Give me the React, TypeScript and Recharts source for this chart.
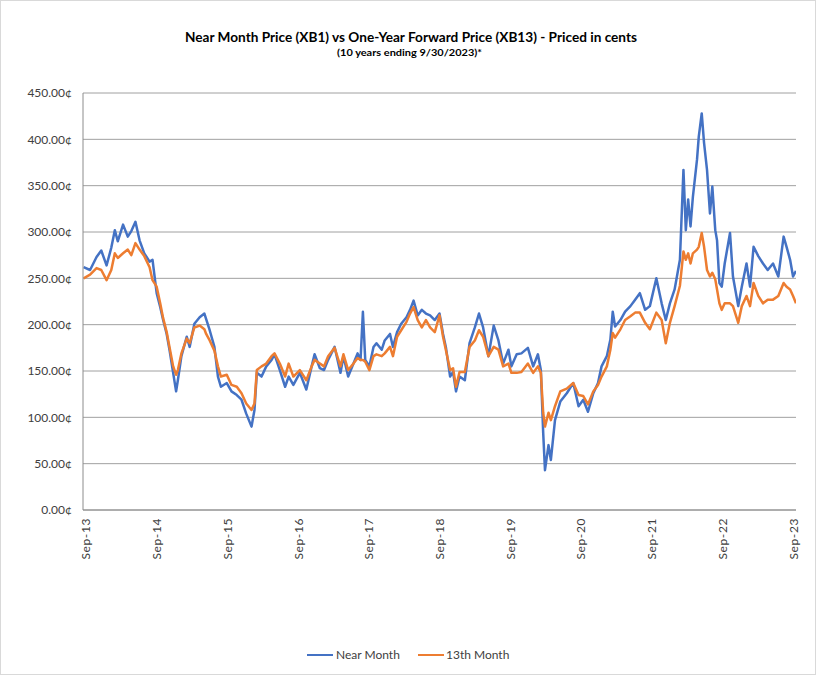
import React from "react";
import { LineChart, Line, XAxis, YAxis, CartesianGrid } from "recharts";

// months since Sep 2013 (fractional)
const monthIdx: number[] = [
  -0.4, 0.7, 1.8, 2.6, 3.5, 4.3, 4.9, 5.4, 6.3, 7.1, 7.7, 8.4, 9.1, 9.9, 10.8, 11.3,
  12.0, 12.6, 13.1, 13.7, 14.2, 14.8, 15.3, 15.6, 16.2, 17.1, 17.6, 18.4, 19.3, 20.1, 20.4, 21.0,
  21.8, 22.4, 22.9, 23.9, 24.7, 25.6, 26.4, 27.2, 28.1, 28.6, 29.0, 29.8, 30.6, 31.5, 32.0, 32.9,
  33.8, 34.4, 35.2, 36.3, 37.4, 38.3, 38.8, 39.7, 40.4, 41.1, 42.2, 43.2, 43.7, 44.5, 45.4, 46.1,
  46.6, 47.0, 47.4, 48.1, 48.8, 49.3, 50.2, 50.7, 51.6, 52.1, 52.8, 53.5, 54.4, 55.0, 55.6, 56.3,
  57.0, 57.7, 58.4, 59.2, 60.0, 60.6, 61.1, 61.8, 62.3, 62.8, 63.4, 64.3, 65.1, 66.0, 66.7, 67.4,
  68.3, 69.2, 70.0, 70.8, 71.7, 72.2, 73.1, 73.9, 75.0, 75.9, 76.7, 77.2, 77.6, 77.9, 78.5, 78.9,
  79.6, 80.5, 81.6, 82.7, 83.6, 84.4, 85.2, 86.1, 86.9, 87.5, 88.4, 89.0, 89.4, 89.8, 90.7, 91.5,
  92.4, 93.2, 94.0, 94.9, 95.7, 96.8, 97.7, 98.4, 99.1, 99.9, 100.8, 101.4, 101.8, 102.2, 102.6, 103.0,
  103.7, 104.0, 104.5, 104.9, 105.4, 105.9, 106.3, 106.8, 107.1, 107.5, 107.9, 108.4, 109.3, 109.8, 110.7, 111.3,
  112.1, 112.7, 113.3, 114.1, 114.9, 115.7, 116.6, 117.5, 118.4, 118.9, 119.5, 120.0, 120.5,
];

// Near Month (XB1), cents
const nearMonth: number[] = [
  262, 259, 273, 280, 264, 283, 302, 290, 308, 295, 301, 311, 291, 277, 268, 270,
  234, 219, 205, 190, 172, 148, 128, 140, 166, 187, 176, 201, 208, 212, 206, 194,
  176, 144, 133, 137, 128, 124, 119, 104, 90, 108, 148, 144, 155, 162, 168, 151,
  133, 144, 135, 148, 130, 155, 168, 153, 151, 162, 176, 148, 166, 144, 158, 169,
  162, 214, 162, 155, 176, 180, 173, 183, 190, 176, 192, 201, 208, 216, 226, 210,
  216, 212, 210, 205, 212, 190, 175, 144, 149, 128, 144, 140, 180, 197, 212, 197,
  166, 199, 183, 158, 173, 155, 168, 169, 175, 155, 168, 151, 83, 43, 70, 54,
  97, 117, 126, 137, 112, 119, 106, 126, 137, 155, 166, 184, 214, 198, 205, 214,
  220, 227, 234, 216, 220, 250, 223, 205, 223, 238, 270, 367, 302, 335, 306, 338,
  378, 403, 428, 396, 367, 320, 349, 302, 291, 245, 241, 266, 299, 252, 220, 241,
  266, 241, 284, 274, 266, 259, 266, 252, 295, 284, 270, 252, 258,
];

// 13th Month (XB13), cents
const thirteenthMonth: number[] = [
  250, 254, 261, 259, 248, 259, 277, 272, 277, 281, 275, 288, 281, 274, 262, 248,
  241, 223, 207, 192, 175, 155, 146, 151, 169, 185, 180, 197, 199, 195, 190, 183,
  172, 155, 144, 146, 135, 133, 126, 115, 108, 115, 151, 155, 158, 166, 169, 158,
  144, 158, 144, 151, 140, 155, 162, 158, 155, 166, 175, 155, 168, 151, 158, 164,
  162, 162, 160, 151, 166, 168, 166, 169, 176, 166, 187, 194, 203, 212, 219, 205,
  197, 205, 197, 192, 210, 187, 172, 151, 153, 133, 149, 149, 176, 183, 194, 187,
  166, 176, 173, 155, 158, 148, 148, 149, 158, 148, 155, 148, 105, 90, 105, 97,
  112, 128, 131, 137, 124, 123, 114, 128, 135, 144, 155, 173, 191, 186, 195, 205,
  209, 213, 213, 202, 195, 213, 205, 180, 202, 220, 242, 279, 270, 277, 266, 277,
  281, 284, 299, 284, 259, 252, 256, 249, 238, 223, 216, 223, 223, 220, 202, 220,
  231, 220, 245, 231, 223, 227, 227, 231, 245, 241, 238, 231, 223,
];

const yTicks: number[] = [0, 50, 100, 150, 200, 250, 300, 350, 400, 450];
const xTicks: number[] = [0, 12, 24, 36, 48, 60, 72, 84, 96, 108, 120];
const xTickLabels: string[] = [
  "Sep-13", "Sep-14", "Sep-15", "Sep-16", "Sep-17", "Sep-18",
  "Sep-19", "Sep-20", "Sep-21", "Sep-22", "Sep-23",
];

const data = monthIdx.map((m, i) => ({
  m,
  near: nearMonth[i],
  thirteenth: thirteenthMonth[i],
}));

const FONT = "Lato, 'Open Sans', sans-serif";
const BLUE = "#4472C4";
const ORANGE = "#ED7D31";
const LABEL = "#404040";

const XTick = (props: any) => {
  const { x, y, payload } = props;
  const idx = xTicks.indexOf(payload.value);
  const label = idx >= 0 ? xTickLabels[idx] : "";
  return (
    <g transform={`translate(${x},${y})`}>
      <text
        x={0}
        y={0}
        dy={4.5}
        transform="rotate(-90)"
        textAnchor="end"
        fontSize={12}
        fontFamily={FONT}
        fill={LABEL}
        letterSpacing={0.6}
      >
        {label}
      </text>
    </g>
  );
};

export default function App() {
  return (
    <div
      style={{
        position: "fixed",
        left: 0,
        top: 0,
        width: 816,
        height: 675,
        background: "#ffffff",
        overflow: "hidden",
      }}
    >
      <div style={{ position: "absolute", left: 0, top: 0 }}>
        <LineChart
          width={816}
          height={675}
          data={data}
          margin={{ top: 93, right: 20, left: 0, bottom: 105 }}
        >
          <CartesianGrid vertical={false} stroke="#a0a0a0" strokeWidth={1} />
          <XAxis
            dataKey="m"
            type="number"
            domain={[-0.5, 120.5]}
            ticks={xTicks}
            interval={0}
            height={60}
            tickLine={false}
            axisLine={{ stroke: "#8c8c8c" }}
            tick={<XTick />}
            allowDataOverflow
          />
          <YAxis
            type="number"
            domain={[0, 450]}
            ticks={yTicks}
            interval={0}
            width={83}
            tickLine={false}
            tickMargin={5}
            axisLine={{ stroke: "#8c8c8c" }}
            tick={{ fontSize: 12, fontFamily: FONT, fill: LABEL }}
            tickFormatter={(v: number) => `${v.toFixed(2)}¢`}
          />
          <Line
            type="linear"
            dataKey="near"
            name="Near Month"
            stroke={BLUE}
            strokeWidth={2.5}
            strokeLinejoin="round"
            dot={false}
            isAnimationActive={false}
          />
          <Line
            type="linear"
            dataKey="thirteenth"
            name="13th Month"
            stroke={ORANGE}
            strokeWidth={2.5}
            strokeLinejoin="round"
            dot={false}
            isAnimationActive={false}
          />
        </LineChart>
      </div>

      <svg
        width={816}
        height={70}
        style={{ position: "absolute", left: 0, top: 0, pointerEvents: "none" }}
      >
        <text
          x={411}
          y={42}
          textAnchor="middle"
          fontFamily={FONT}
          fontWeight={700}
          fontSize={14}
          fill="#000000"
          textLength={452}
          lengthAdjust="spacingAndGlyphs"
        >
          Near Month Price (XB1) vs One-Year Forward Price (XB13) - Priced in cents
        </text>
        <text
          x={409.5}
          y={56}
          textAnchor="middle"
          fontFamily={FONT}
          fontWeight={700}
          fontSize={10}
          fill="#000000"
          textLength={145}
          lengthAdjust="spacingAndGlyphs"
        >
          (10 years ending  9/30/2023)*
        </text>
      </svg>

      <div
        style={{
          position: "absolute",
          left: 0,
          top: 646,
          width: 816,
          height: 18,
          fontFamily: FONT,
          fontSize: 12,
          color: LABEL,
        }}
      >
        <div style={{ position: "absolute", left: 307, top: 8, width: 26, height: 2, background: BLUE }} />
        <div style={{ position: "absolute", left: 336, top: 1, whiteSpace: "nowrap" }}>Near Month</div>
        <div style={{ position: "absolute", left: 418, top: 8, width: 26, height: 2, background: ORANGE }} />
        <div style={{ position: "absolute", left: 446, top: 1, whiteSpace: "nowrap" }}>13th Month</div>
      </div>

      <div
        style={{
          position: "absolute",
          left: 0,
          top: 0,
          width: 816,
          height: 675,
          boxSizing: "border-box",
          border: "1px solid #d9d9d9",
          pointerEvents: "none",
        }}
      />
    </div>
  );
}
